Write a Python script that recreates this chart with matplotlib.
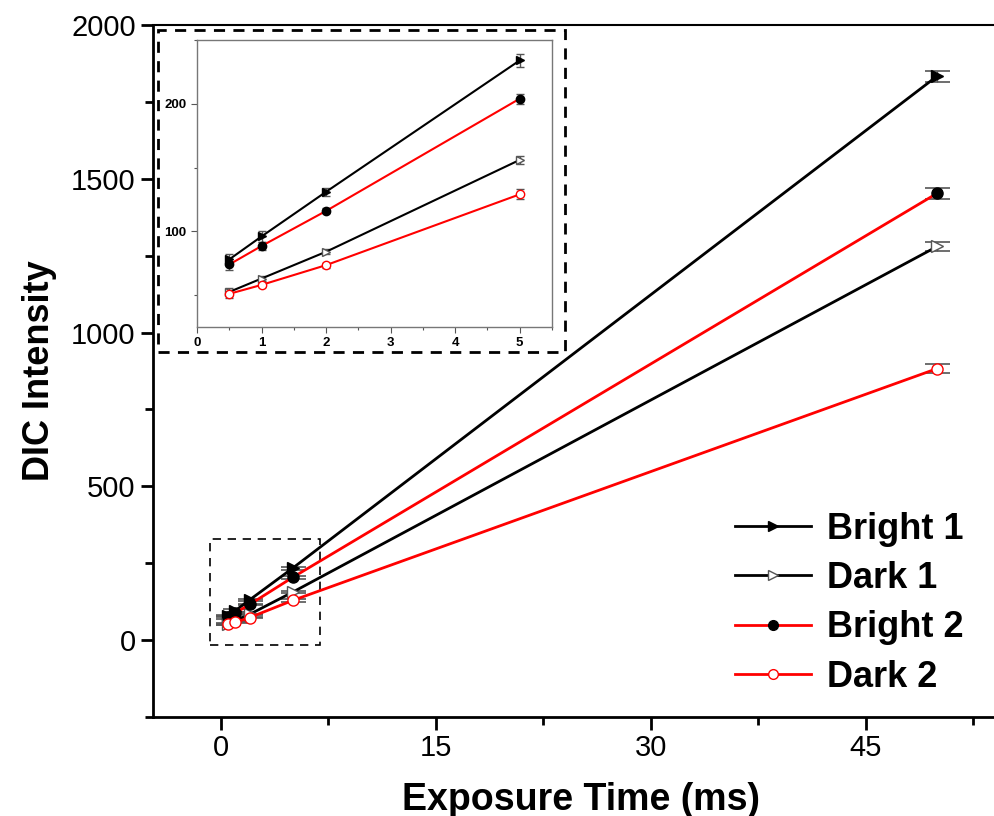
import matplotlib.pyplot as plt
from matplotlib.patches import Rectangle
from matplotlib.lines import Line2D
from matplotlib.ticker import MultipleLocator

# exposure times (ms)
t_main = [0.5, 1, 2, 5, 50]

bright1 = [78, 96, 131, 234, 1834]
dark1 = [52.5, 63, 84, 156, 1280]
bright2 = [74, 88.5, 116, 204, 1453]
dark2 = [51, 58, 73.5, 129, 883]

bright1_err = [4, 4, 3, 5, 18]
dark1_err = [3, 2, 2, 3, 14]
bright2_err = [4, 3, 2, 4, 17]
dark2_err = [3, 2, 2, 4, 15]

names = ["Bright 1", "Dark 1", "Bright 2", "Dark 2"]

plt.rcParams['font.family'] = ['Liberation Sans', 'DejaVu Sans']

styles = [
    dict(color='black', marker='>', mfc='black', mec='black'),
    dict(color='black', marker='>', mfc='white', mec='#555555'),
    dict(color='red', marker='o', mfc='black', mec='black'),
    dict(color='red', marker='o', mfc='white', mec='red'),
]
series = [(bright1, bright1_err), (dark1, dark1_err), (bright2, bright2_err), (dark2, dark2_err)]

fig = plt.figure(figsize=(9.95, 8.16), dpi=100)
ax = fig.add_axes([0.1538, 0.1213, 0.86, 0.848])

for (y, e), st in zip(series, styles):
    ax.errorbar(t_main, y, yerr=e, color=st['color'], marker=st['marker'], ms=8,
                mfc=st['mfc'], mec=st['mec'], lw=2, ecolor='#555555', elinewidth=1,
                capsize=9, capthick=1.2)

ax.set_xlim(-4.75, 55)
ax.set_ylim(-250, 2000)
ax.xaxis.set_major_locator(MultipleLocator(15))
ax.xaxis.set_minor_locator(MultipleLocator(7.5))
ax.yaxis.set_major_locator(MultipleLocator(500))
ax.yaxis.set_minor_locator(MultipleLocator(250))
ax.tick_params(which='both', direction='out', width=2, labelsize=21)
ax.tick_params(which='major', length=9)
ax.tick_params(which='minor', length=6)
ax.spines['left'].set_linewidth(2)
ax.spines['bottom'].set_linewidth(2)
ax.spines['top'].set_linewidth(1.5)
ax.spines['right'].set_visible(False)
ax.set_xlabel('Exposure Time (ms)', fontsize=27, fontweight='bold', labelpad=14)
ax.set_ylabel('DIC Intensity', fontsize=26, fontweight='bold', labelpad=10)

ax.add_patch(Rectangle((-0.8, -15), 7.7, 345, fill=False, ls=(0, (5, 4)), lw=1.2, ec='black'))

handles = [Line2D([], [], color=st['color'], marker=st['marker'], ms=7, mfc=st['mfc'],
                  mec=st['mec'], lw=2) for st in styles]
ax.legend(handles, names, loc='lower right', bbox_to_anchor=(0.985, -0.015), frameon=False,
          handlelength=2.1, handletextpad=0.45, labelspacing=0.4,
          prop={'weight': 'bold', 'size': 26})

# dashed frame around inset
fig.patches.append(Rectangle((158 / 995, 1 - 352 / 816), (565 - 158) / 995, (352 - 30) / 816,
                             transform=fig.transFigure, fill=False, ls=(0, (4, 3)), lw=2, ec='black'))

ins = fig.add_axes([197 / 995, 1 - 327 / 816, (552 - 197) / 995, (327 - 40) / 816])
for (y, e), st in zip(series, styles):
    ins.errorbar(t_main[:4], y[:4], yerr=e[:4], color=st['color'], marker=st['marker'], ms=6,
                 mfc=st['mfc'], mec=st['mec'], lw=1.5, ecolor='#555555', elinewidth=1,
                 capsize=3, capthick=1)
ins.set_xlim(0, 5.5)
ins.set_ylim(25, 250)
ins.xaxis.set_major_locator(MultipleLocator(1))
ins.xaxis.set_minor_locator(MultipleLocator(0.5))
ins.yaxis.set_major_locator(MultipleLocator(100))
ins.yaxis.set_minor_locator(MultipleLocator(50))
ins.tick_params(which='both', direction='out', width=0.8, color='#555555', labelsize=9.5)
ins.tick_params(which='major', length=4)
ins.tick_params(which='minor', length=2.5)
for lab in ins.get_xticklabels() + ins.get_yticklabels():
    lab.set_fontweight('bold')
for s in ins.spines.values():
    s.set_color('#777777')
    s.set_linewidth(1)

fig.savefig('out.png', dpi=100)
